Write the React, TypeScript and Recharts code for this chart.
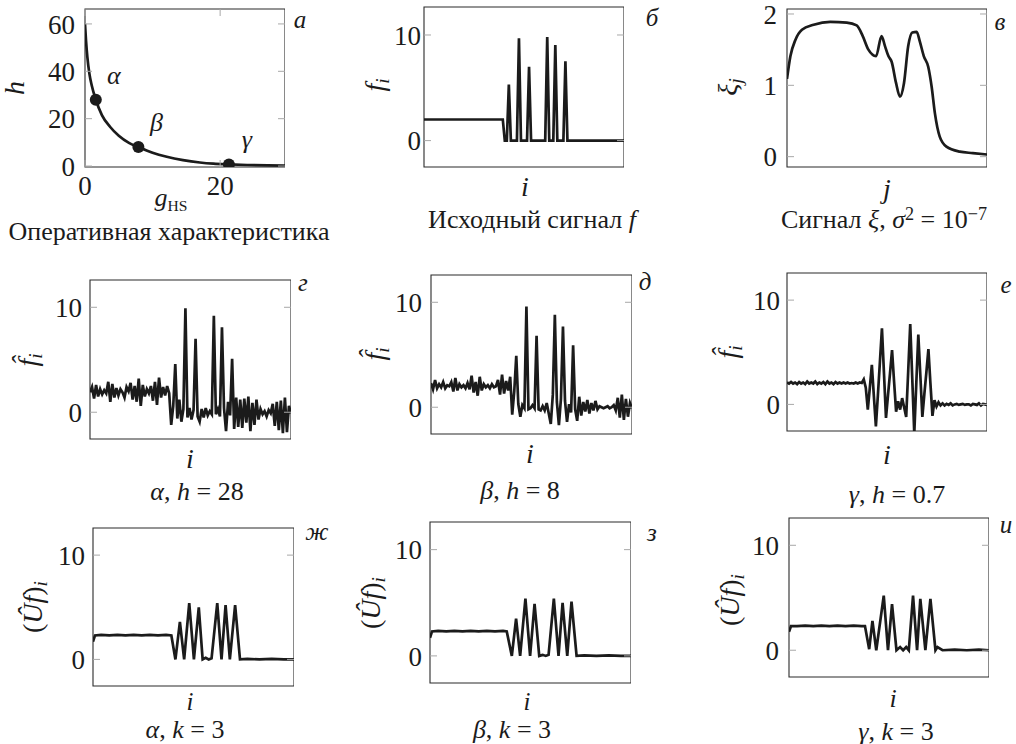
import React from "react";
import { ComposedChart, Line, Scatter, XAxis, YAxis, ReferenceArea } from "recharts";

const FONT = '"Liberation Serif", Tinos, "Times New Roman", serif';
const INK = "#1b1b1b";
const TICK = "#a8a8a8";
const PAD_L = 60;
const PAD_T = 16;
const PAD_B = 12;
const TICK_FS = 27;

// а: operating characteristic h(g_HS)
const opG = [0, 0.15, 0.35, 0.65, 1.0, 1.6, 2.5, 3.7, 5.0, 6.5, 7.9, 10.0, 12.1, 14.5, 17.0, 19.0, 21.3, 24.0, 27.0, 29.6];
const opH = [60, 53, 46, 39, 34, 28, 21.5, 16.6, 12.8, 9.8, 8.0, 5.6, 3.9, 2.5, 1.5, 1.0, 0.7, 0.45, 0.3, 0.2];
const markG = [1.6, 7.9, 21.3];
const markH = [28, 8, 0.7];
const markName = ["α", "β", "γ"];

// б: source signal f
const srcI = [0, 39, 40, 41, 42, 43, 46, 47, 48, 51, 52, 53, 60, 61, 62, 64, 65, 66, 69, 70, 71, 99];
const srcF = [2, 2, 0, 0, 5.3, 0, 0, 9.7, 0, 0, 7.0, 0, 0, 9.8, 0, 0, 9.05, 0, 0, 7.5, 0, 0];

// в: signal xi
const xiJ = [0, 1.7, 4.2, 7.4, 13.2, 21.4, 29.6, 34.5, 37.5, 40.3, 44.1, 46.8, 48.5, 50.2, 51.8, 54, 55.9, 57.9, 60, 62, 64.2, 65.7, 67.7, 69.9, 71.6, 73.2, 75.6, 78.9, 85.5, 92, 99];
const xiV = [1.09, 1.41, 1.64, 1.78, 1.85, 1.89, 1.88, 1.84, 1.69, 1.5, 1.41, 1.69, 1.55, 1.41, 1.33, 1.03, 0.84, 1.03, 1.55, 1.74, 1.75, 1.62, 1.41, 1.26, 0.98, 0.61, 0.28, 0.14, 0.07, 0.05, 0.03];

// г, д, е: estimates f^ for h = 28, 8, 0.7
const estA = [
  1.9, 2.4, 1.3, 2.6, 1.5, 2.2, 1.7, 2.1, 1.8, 2.9,
  1.0, 2.7, 1.4, 2.3, 1.6, 2.2, 1.9, 1.4, 2.4, 2.0,
  2.8, 1.2, 2.5, 1.0, 3.2, 0.6, 2.6, 1.5, 2.2, 1.8,
  2.5, 1.1, 2.9, 0.7, 3.3, 1.4, 2.4, 1.6, 2.5, 1.8,
  -1.2, 0.6, 4.6, -0.6, 1.2, -0.9, 0.3, 9.9, -0.5, 0.4,
  -0.7, 0.2, 7.0, -0.4, -0.9, 0.3, -0.5, 0.4, -0.3, 0.1,
  -0.2, 9.2, -0.2, 0.3, -0.4, 8.1, 0.4, -1.8, 1.0, -0.3,
  5.1, -1.6, 1.4, -1.4, 1.2, -1.5, 1.3, -1.0, 1.5, -1.8,
  0.9, -1.2, 1.2, -0.7, 0.3, -0.2, 0.1, -0.4, 0.2, -0.1,
  0.8, -1.3, 1.0, -1.7, 1.1, -2.0, 1.4, -1.9, 0.6, -0.1,
];
const estB = [
  2.3, 1.7, 2.6, 1.8, 2.2, 1.9, 2.4, 1.8, 2.1, 2.0,
  2.4, 1.5, 2.8, 1.6, 2.2, 1.9, 2.1, 1.8, 2.3, 1.7,
  3.0, 1.4, 2.4, 1.1, 2.9, 1.6, 2.2, 1.9, 2.1, 1.8,
  2.2, 1.9, 2.0, 2.6, 1.2, 3.1, 1.3, 2.5, 1.6, 2.9,
  -0.7, 1.5, 4.9, 0.3, -0.9, 0.2, -0.1, 9.6, -0.2, -0.1,
  0.2, -0.1, 6.8, -0.2, -0.3, 0.1, -0.3, 0.4, -0.6, -1.6,
  1.2, 8.8, 0.5, -1.7, 0.8, 7.7, 0.6, -1.4, 0.3, -0.5,
  5.9, -0.2, -1.3, 1.0, -0.8, 0.5, -0.4, 0.7, -0.6, 0.4,
  -0.3, 0.6, -0.2, 0.1, 0.0, -0.1, 0.0, 0.1, -0.1, 0.0,
  0.2, -0.3, 0.9, -1.0, 1.2, -1.2, 0.8, -0.9, 0.4, -0.1,
];
const estC = [
  2.1, 2.0, 2.15, 2.0, 2.1, 1.95, 2.15, 2.0, 2.1, 1.95,
  2.2, 2.0, 2.1, 2.0, 2.2, 1.95, 2.1, 2.0, 2.15, 1.95,
  2.2, 2.0, 2.1, 1.95, 2.15, 2.0, 2.1, 2.0, 2.1, 2.0,
  2.1, 2.0, 2.05, 2.0, 2.1, 2.0, 2.1, 2.05, 2.4, 1.6,
  -0.5, 1.6, 3.8, 0.8, -2.1, 0.9, 4.1, 7.3, 3.0, -1.3,
  0.9, 3.0, 5.2, 2.2, -0.7, 0.3, -0.5, 0.6, -0.3, -1.2,
  3.2, 7.7, 2.5, -2.8, 2.0, 6.7, 2.8, -1.2, 1.0, 3.1,
  5.3, 2.0, -1.1, 0.4, -0.2, 0.2, -0.1, 0.1, -0.1, 0.05,
  -0.05, 0.1, -0.1, 0.0, 0.05, -0.05, 0.0, 0.05, -0.05, 0.0,
  0.0, -0.1, 0.05, 0.0, -0.05, 0.1, -0.1, 0.05, 0.0, -0.05,
];

// ж, з, и: (U^f)_i, k = 3
const uAi = [0, 1, 4, 8, 12, 16, 20, 24, 28, 32, 36, 38.6, 40.6, 42.8, 44.9, 47.4, 49.7, 52.1, 54.0, 55.5, 57.0, 58.4, 61.2, 63.3, 65.3, 67.4, 70.0, 72.4, 76, 82, 88, 94, 99];
const uAv = [1.7, 2.3, 2.35, 2.3, 2.35, 2.3, 2.35, 2.3, 2.35, 2.3, 2.35, 2.3, 0.0, 3.6, 0.0, 5.4, 0.0, 5.0, 0.0, 0.15, 0.0, 0.1, 5.4, 0.0, 5.2, 0.0, 5.2, 0.0, 0.05, 0.0, 0.05, 0.0, 0.0];
const uBi = [0, 1, 4, 8, 12, 16, 20, 24, 28, 32, 36, 37.8, 40.3, 42.4, 44.4, 47.0, 49.3, 51.5, 53.8, 55.5, 57.0, 58.4, 61.0, 63.3, 65.3, 67.6, 69.7, 72.2, 76, 82, 88, 94, 99];
const uBv = [1.7, 2.3, 2.35, 2.3, 2.35, 2.3, 2.35, 2.3, 2.35, 2.3, 2.35, 2.3, 0.0, 3.5, 0.0, 5.4, 0.0, 4.9, 0.0, 0.1, 0.0, 0.1, 5.4, 0.0, 5.0, 0.0, 5.1, 0.0, 0.05, 0.0, 0.05, 0.0, 0.0];
const uCi = [0, 1, 4, 8, 12, 16, 20, 24, 28, 32, 36, 37.6, 39.7, 41.3, 43.2, 46.9, 49.0, 51.0, 53.2, 55.0, 56.5, 58.0, 59.3, 61.4, 63.4, 65.0, 67.5, 70.0, 72.5, 73.5, 76, 82, 88, 94, 99];
const uCv = [1.75, 2.3, 2.3, 2.35, 2.3, 2.35, 2.3, 2.35, 2.3, 2.35, 2.3, 2.3, 0.1, 2.8, 0.0, 5.2, 0.0, 4.4, 0.0, 0.3, 0.0, 0.3, 0.0, 5.2, 0.0, 4.9, 0.0, 4.9, 0.0, 0.3, 0.0, 0.05, 0.0, 0.05, 0.0];

const sigTicks = [0, 10];
const sigDomain: [number, number] = [-2.55, 12.6];
const idxDomain: [number, number] = [0, 99];

type Pt = { x: number; y: number; name?: string };
const zip = (xs: number[], ys: number[]): Pt[] => xs.map((x, k) => ({ x, y: ys[k] }));
const byIndex = (ys: number[]): Pt[] => ys.map((y, k) => ({ x: k, y }));

const makeYTick = (w: number, gap: number) => (props: any) => {
  const { y, payload } = props;
  return (
    <g>
      <line x1={PAD_L} x2={PAD_L + 7} y1={y} y2={y} stroke={TICK} strokeWidth={1} />
      <line x1={PAD_L + w - 7} x2={PAD_L + w} y1={y} y2={y} stroke={TICK} strokeWidth={1} />
      <text x={PAD_L - gap} y={y} dy="0.36em" textAnchor="end" fontFamily={FONT} fontSize={TICK_FS} fill={INK}>
        {payload.value}
      </text>
    </g>
  );
};

const makeXTick = (h: number) => (props: any) => {
  const { x, payload } = props;
  return (
    <g>
      <line x1={x} x2={x} y1={PAD_T} y2={PAD_T + 7} stroke={TICK} strokeWidth={1} />
      <line x1={x} x2={x} y1={PAD_T + h - 7} y2={PAD_T + h} stroke={TICK} strokeWidth={1} />
      <text x={x} y={PAD_T + h + 18} dy="0.36em" textAnchor="middle" fontFamily={FONT} fontSize={TICK_FS} fill={INK}>
        {payload.value}
      </text>
    </g>
  );
};

const MarkShape = (props: any) => {
  const { cx, cy, payload } = props;
  return (
    <g>
      <circle cx={cx} cy={cy} r={6} fill={INK} />
      <text x={cx + 18} y={cy - 16} textAnchor="middle" fontFamily={FONT} fontStyle="italic" fontSize={26} fill={INK}>
        {payload.name}
      </text>
    </g>
  );
};

type Box = { x: number; y: number; w: number; h: number };

type PanelProps = {
  box: Box;
  data: Pt[];
  xDomain: [number, number];
  yDomain: [number, number];
  yTicks: number[];
  xTicks?: number[];
  gap: number;
  curve?: "linear" | "monotone";
  marks?: Pt[];
};

const Panel = ({ box, data, xDomain, yDomain, yTicks, xTicks, gap, curve = "linear", marks }: PanelProps) => {
  const padB = xTicks ? 34 : 0;
  return (
    <div style={{ position: "absolute", left: box.x - PAD_L, top: box.y - PAD_T }}>
      <ComposedChart
        width={PAD_L + box.w}
        height={PAD_T + box.h + padB + PAD_B}
        data={data}
        margin={{ top: PAD_T, right: 0, bottom: PAD_B, left: 0 }}
      >
        <XAxis
          type="number"
          dataKey="x"
          domain={xDomain}
          allowDataOverflow
          hide={!xTicks}
          ticks={xTicks}
          interval={0}
          height={padB}
          axisLine={false}
          tickLine={false}
          tick={xTicks ? makeXTick(box.h) : false}
        />
        <YAxis
          type="number"
          domain={yDomain}
          ticks={yTicks}
          interval={0}
          allowDataOverflow
          width={PAD_L}
          axisLine={false}
          tickLine={false}
          tick={makeYTick(box.w, gap)}
        />
        <Line type={curve} dataKey="y" stroke={INK} strokeWidth={2.7} dot={false} isAnimationActive={false} />
        {marks && <Scatter data={marks} dataKey="y" fill={INK} shape={MarkShape} isAnimationActive={false} />}
        <ReferenceArea
          x1={xDomain[0]}
          x2={xDomain[1]}
          y1={yDomain[0]}
          y2={yDomain[1]}
          fill="none"
          stroke="#2a2a2a"
          strokeWidth={1.1}
          ifOverflow="visible"
        />
      </ComposedChart>
    </div>
  );
};

const Tx = ({ x, y, rot, size = 26, children }: { x: number; y: number; rot?: boolean; size?: number; children: React.ReactNode }) => (
  <div
    style={{
      position: "absolute",
      left: x,
      top: y,
      transform: `translate(-50%, -50%)${rot ? " rotate(-90deg)" : ""}`,
      fontFamily: FONT,
      fontSize: size,
      lineHeight: 0.8,
      whiteSpace: "nowrap",
      color: INK,
    }}
  >
    {children}
  </div>
);

const Sub = ({ children }: { children: React.ReactNode }) => (
  <span style={{ fontSize: "0.7em", verticalAlign: "-0.25em" }}>{children}</span>
);
const Sup = ({ children }: { children: React.ReactNode }) => (
  <span style={{ fontSize: "0.7em", verticalAlign: "0.45em" }}>{children}</span>
);

const FHat = () => (
  <>
    <i>f̂</i>
    <Sub>
      <i>i</i>
    </Sub>
  </>
);
const UHat = () => (
  <>
    (<i>Ûf</i>)
    <Sub>
      <i>i</i>
    </Sub>
  </>
);

export default function App() {
  const marks = markG.map((g, k) => ({ x: g, y: markH[k], name: markName[k] }));
  return (
    <div style={{ position: "absolute", left: 0, top: 0, width: 1016, height: 744, background: "#fff", fontFamily: FONT }}>
      {/* row 1 */}
      <Panel box={{ x: 85, y: 9, w: 200, h: 158 }} data={zip(opG, opH)} xDomain={[0, 29.6]} yDomain={[-0.4, 66.3]} yTicks={[0, 20, 40, 60]} xTicks={[0, 20]} gap={10} curve="monotone" marks={marks} />
      <Panel box={{ x: 424, y: 7, w: 200, h: 160 }} data={zip(srcI, srcF)} xDomain={idxDomain} yDomain={[-2.5, 12.65]} yTicks={sigTicks} gap={3} />
      <Panel box={{ x: 787, y: 9, w: 200, h: 158 }} data={zip(xiJ, xiV)} xDomain={idxDomain} yDomain={[-0.145, 2.07]} yTicks={[0, 1, 2]} gap={10} curve="monotone" />
      {/* row 2 */}
      <Panel box={{ x: 90, y: 280, w: 201, h: 159 }} data={byIndex(estA)} xDomain={idxDomain} yDomain={sigDomain} yTicks={sigTicks} gap={8} />
      <Panel box={{ x: 431, y: 275, w: 201, h: 159 }} data={byIndex(estB)} xDomain={idxDomain} yDomain={sigDomain} yTicks={sigTicks} gap={9} />
      <Panel box={{ x: 787, y: 273, w: 200, h: 158 }} data={byIndex(estC)} xDomain={idxDomain} yDomain={sigDomain} yTicks={sigTicks} gap={7} />
      {/* row 3 */}
      <Panel box={{ x: 93, y: 528, w: 201, h: 158 }} data={zip(uAi, uAv)} xDomain={idxDomain} yDomain={sigDomain} yTicks={sigTicks} gap={8} />
      <Panel box={{ x: 430, y: 522, w: 201, h: 161 }} data={zip(uBi, uBv)} xDomain={idxDomain} yDomain={sigDomain} yTicks={sigTicks} gap={8} />
      <Panel box={{ x: 789, y: 518, w: 200, h: 159 }} data={zip(uCi, uCv)} xDomain={idxDomain} yDomain={sigDomain} yTicks={sigTicks} gap={10} />

      {/* а */}
      <Tx x={15} y={88} rot size={28}><i>h</i></Tx>
      <Tx x={171} y={200} size={26}>
        <i>g</i>
        <span style={{ fontSize: "0.6em", verticalAlign: "-0.3em" }}>HS</span>
      </Tx>
      <Tx x={169} y={232}>Оперативная характеристика</Tx>
      <Tx x={300} y={20} size={25}><i>а</i></Tx>

      {/* б */}
      <Tx x={377} y={85} rot size={28}>
        <i>f</i>
        <Sub><i>i</i></Sub>
      </Tx>
      <Tx x={525} y={187} size={28}><i>i</i></Tx>
      <Tx x={532} y={220}>
        Исходный сигнал <i>f</i>
      </Tx>
      <Tx x={652} y={18} size={25}><i>б</i></Tx>

      {/* в */}
      <Tx x={730} y={87} rot size={28}>
        <i>ξ</i>
        <Sub><i>j</i></Sub>
      </Tx>
      <Tx x={887} y={189} size={28}><i>j</i></Tx>
      <Tx x={884} y={219}>
        Сигнал <i>ξ</i>, <i>σ</i>
        <Sup>2</Sup> = 10<Sup>−7</Sup>
      </Tx>
      <Tx x={1000} y={22} size={25}><i>в</i></Tx>

      {/* г д е */}
      <Tx x={30} y={360} rot size={28}><FHat /></Tx>
      <Tx x={190} y={459} size={28}><i>i</i></Tx>
      <Tx x={197} y={492}><i>α</i>, <i>h</i> = 28</Tx>
      <Tx x={303} y={283} size={25}><i>г</i></Tx>

      <Tx x={377} y={354} rot size={28}><FHat /></Tx>
      <Tx x={530} y={454} size={28}><i>i</i></Tx>
      <Tx x={520} y={491}><i>β</i>, <i>h</i> = 8</Tx>
      <Tx x={645} y={282} size={25}><i>д</i></Tx>

      <Tx x={730} y={352} rot size={28}><FHat /></Tx>
      <Tx x={887} y={455} size={28}><i>i</i></Tx>
      <Tx x={897} y={495}><i>γ</i>, <i>h</i> = 0.7</Tx>
      <Tx x={1006} y={285} size={25}><i>е</i></Tx>

      {/* ж з и */}
      <Tx x={35} y={607} rot size={28}><UHat /></Tx>
      <Tx x={190} y={702} size={25}><i>i</i></Tx>
      <Tx x={185} y={730}><i>α</i>, <i>k</i> = 3</Tx>
      <Tx x={317} y={532} size={25}><i>ж</i></Tx>

      <Tx x={373} y={603} rot size={28}><UHat /></Tx>
      <Tx x={527} y={702} size={25}><i>i</i></Tx>
      <Tx x={512} y={730}><i>β</i>, <i>k</i> = 3</Tx>
      <Tx x={652} y={533} size={25}><i>з</i></Tx>

      <Tx x={732} y={600} rot size={28}><UHat /></Tx>
      <Tx x={893} y={699} size={26}><i>i</i></Tx>
      <Tx x={896} y={732}><i>γ</i>, <i>k</i> = 3</Tx>
      <Tx x={1006} y={525} size={25}><i>и</i></Tx>
    </div>
  );
}
